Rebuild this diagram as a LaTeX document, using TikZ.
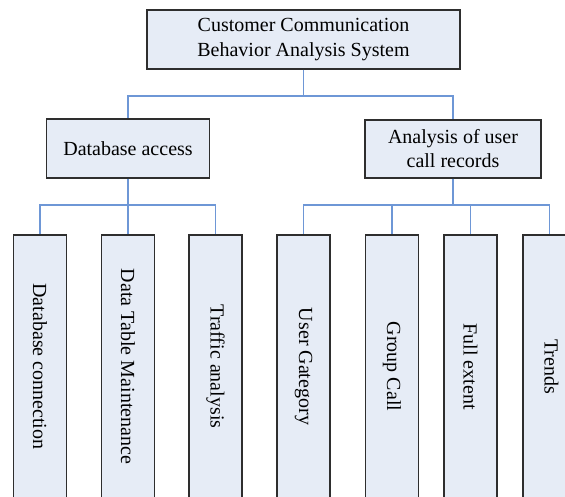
\documentclass[tikz,border=0pt]{standalone}
\usepackage{fontspec}
\setmainfont{Liberation Serif}
\definecolor{boxfill}{HTML}{E6ECF6}
\definecolor{boxline}{HTML}{2E2E2E}
\definecolor{connblue}{HTML}{6E97D6}
\begin{document}
\begin{tikzpicture}[x=1pt,y=-1pt,
  box/.style={draw=boxline, fill=boxfill, line width=1.2pt, rectangle, inner sep=0pt, align=center,
    font=\fontsize{20}{25}\selectfont},
  vbox/.style={box, minimum width=53pt, minimum height=263pt},
  vtext/.style={rotate=-90, font=\fontsize{20}{24}\selectfont},
  conn/.style={draw=connblue, line width=1.4pt}]
\useasboundingbox (0,0) rectangle (565,497);
\clip (0,0) rectangle (565,497);
\node[box, minimum width=313pt, minimum height=59pt] (top) at (303.5,39.5)
  {Customer Communication\\Behavior Analysis System};
\node[box, minimum width=163pt, minimum height=59pt] (db) at (128,148.5) {Database access};
\node[box, minimum width=176pt, minimum height=58pt, font=\fontsize{20}{24}\selectfont] (an) at (453,149)
  {Analysis of user\\call records};
\node[vbox] (b1) at (40,366.5) {};
\node[vtext] at (b1.center) {Database connection};
\node[vbox] (b2) at (128,366.5) {};
\node[vtext] at (b2.center) {Data Table Maintenance};
\node[vbox] (b3) at (215.5,366.5) {};
\node[vtext] at (b3.center) {Traffic analysis};
\node[vbox] (b4) at (303.5,366.5) {};
\node[vtext] at (b4.center) {User Gategory};
\node[vbox] (b5) at (392,366.5) {};
\node[vtext] at (b5.center) {Group Call};
\node[vbox] (b6) at (470.5,366.5) {};
\node[vtext] at (b6.center) {Full extent};
\node[vbox] (b7) at (549.5,366.5) {};
\node[vtext] at ([xshift=2pt]b7.center) {Trends};
\coordinate (j1) at (303.5,96);
\coordinate (j2) at (128,205);
\coordinate (j3) at (453,205);
\draw[conn] (top.south) -- (j1);
\draw[conn] (j1) -| (db.north);
\draw[conn] (j1) -| (an.north);
\draw[conn] (db.south) -- (j2);
\draw[conn] (j2) -| (b1.north);
\draw[conn] (j2) -- (b2.north);
\draw[conn] (j2) -| (b3.north);
\draw[conn] (an.south) -- (j3);
\draw[conn] (j3) -| (b4.north);
\draw[conn] (j3) -| (b5.north);
\draw[conn] (j3) -| (b6.north);
\draw[conn] (j3) -| (b7.north);
\end{tikzpicture}
\end{document}
